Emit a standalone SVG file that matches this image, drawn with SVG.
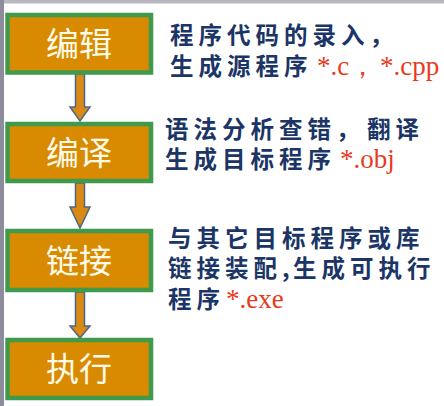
<svg xmlns="http://www.w3.org/2000/svg" width="444" height="406" viewBox="0 0 444 406">
<style>
.box{fill:#d88a00;stroke:#3f9a4c;stroke-width:4.5}
.lbl{font-family:"Noto Sans CJK SC","Noto Sans",sans-serif;font-size:33px;fill:#fffbe8;text-anchor:middle}
.arr{fill:#d88a12;stroke:#4c6686;stroke-width:1.5}
.d{font-family:"Noto Sans CJK SC",sans-serif;font-weight:bold;font-size:23.5px;fill:#1b3566;letter-spacing:5px}
.r{font-family:"Liberation Serif",serif;font-size:27px;fill:#e8391c;font-weight:normal;letter-spacing:0}
</style>
<rect width="444" height="406" fill="#ffffff"/>
<rect x="0" y="0" width="444" height="3.5" fill="#b9b7c0"/>
<rect x="0" y="0" width="4" height="406" fill="#8c8c9c"/>
<g id="connectors">
<path class="arr" d="M75.5,74 H84.5 V107 H90 L80,121 L70,107 H75.5 Z"/>
<path class="arr" d="M75.5,183 H84.5 V207 H90 L80,228 L70,207 H75.5 Z"/>
<path class="arr" d="M75.5,292 H84.5 V326 H90 L80,338 L70,326 H75.5 Z"/>
</g>
<g id="n1"><rect class="box" x="7.5" y="15" width="143.5" height="57.5"/><text class="lbl" x="79" y="56">编辑</text></g>
<g id="n2"><rect class="box" x="7.5" y="124" width="143.5" height="57"/><text class="lbl" x="79" y="165">编译</text></g>
<g id="n3"><rect class="box" x="7.5" y="231" width="143.5" height="59"/><text class="lbl" x="79" y="273">链接</text></g>
<g id="n4"><rect class="box" x="7.5" y="340" width="143.5" height="58"/><text class="lbl" x="79" y="381">执行</text></g>
<g id="d1">
<text class="d" x="170" y="44">程序代码的录入，</text>
<text class="d" x="170" y="75">生成源程序<tspan class="r" x="317">*.c，</tspan><tspan class="r" x="380">*.cpp</tspan></text>
</g>
<g id="d2">
<text class="d" x="165" y="138">语法分析查错，<tspan x="367">翻译</tspan></text>
<text class="d" x="165" y="168">生成目标程序<tspan class="r" x="340">*.obj</tspan></text>
</g>
<g id="d3">
<text class="d" x="168" y="247">与其它目标程序或库</text>
<text class="d" x="168" y="277">链接装配<tspan letter-spacing="0">,</tspan><tspan x="293">生成可执行</tspan></text>
<text class="d" x="168" y="308">程序<tspan class="r" x="226">*.exe</tspan></text>
</g>
</svg>
